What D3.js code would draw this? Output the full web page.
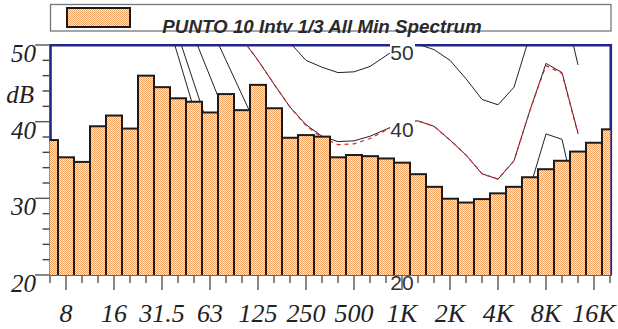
<!DOCTYPE html>
<html><head><meta charset="utf-8">
<script src="https://cdn.jsdelivr.net/npm/d3@7"></script>
<style>
html,body{margin:0;padding:0;background:#fff;} svg{display:block;}
.ser{font-family:'Liberation Serif','Times New Roman',Times,serif;font-style:italic;font-size:25px;fill:#222;}
.xl{font-size:26px;}
.san{font-family:'Liberation Sans',Arial,Helvetica,sans-serif;}
</style>
</head><body><svg id="c" width="618" height="329"></svg>
<script>
// ---- data ----
const bands = ["6.3","8","10","12.5","16","20","25","31.5","40","50","63","80","100","125","160","200","250","315","400","500","630","800","1K","1.25K","1.6K","2K","2.5K","3.15K","4K","5K","6.3K","8K","10K","12.5K","16K","20K"];
const levels = [37.6,35.35,34.75,39.4,40.8,39.1,46.0,44.5,43.05,42.6,41.2,43.6,41.5,44.8,41.75,37.9,38.25,38.05,35.35,35.65,35.5,35.2,34.65,33.15,31.5,29.95,29.45,29.9,30.65,31.5,32.75,33.8,34.9,36.1,37.25,39.0];
const tickLabels = ["8","16","31.5","63","125","250","500","1K","2K","4K","8K","16K"];
const yMajor = [20,30,40,50];
const yMinor = [22,24,26,28,32,34,36,38,42,44,46,48];
const title = "PUNTO 10 Intv 1/3 All Min Spectrum";
const N = null;
// contours (dB per band, null = not drawn)
const c0  = [N,N,N,N,N,N,N,55.5,48.6,41.6,36,31,27,23.5,20.5,18];
const c10 = [N,N,N,N,N,N,N,N,51.3,45.0,38.7,34,30,27,24,21.5,19.5,18];
const c20 = [N,N,N,N,N,N,N,N,N,51.1,45.9,40.7,36.5,33,30,27,24.5,22.5,21,20.3,20,19.7,20,20.2,19.5,18,15.5,13,12.5,15,21.5,28.5,27.5,19];
const c30 = [N,N,N,N,N,N,N,N,N,N,52.5,48.0,43.5,39.0,36,33,30.5,29,28.3,28.4,29,29.8,30,30,29.4,28,25.8,23.2,22.5,25,31.4,38.4,37.7,28.5];
const c40 = [N,N,N,N,N,N,N,N,N,N,N,N,50.8,48.0,44.9,41.9,39.6,38.1,37.4,37.5,38.1,39.0,40.0,40.1,39.4,37.6,35.65,33.2,32.5,34.9,41.5,47.6,46.4,38.5];
const c50 = [N,N,N,N,N,N,N,N,N,N,N,N,N,N,53.0,50.3,48.0,47.1,46.4,46.5,47.2,48.6,50.0,50.1,49.4,48.0,45.6,42.9,42.2,44.5,51.3,57.5,56.4,47.4];
const redRef = [N,N,N,N,N,N,N,N,N,N,N,N,50.8,48.0,44.9,41.9,39.5,37.9,37.0,37.1,37.8,38.9,40.0,40.1,39.4,37.6,35.65,33.2,32.5,34.9,41.5,47.3,46.3,38.4];
const contours = [c0,c10,c20,c30,c40,c50];
const labelPhon = [20,30,40,50];
const labelBand = "1K";

// ---- layout ----
const svg = d3.select("#c");
const pLeft = 50.5, pRight = 610.8, pTop = 45.3, pBottom = 275;
const x = d3.scaleBand().domain(bands).range([42, 618]).padding(0);
const cx = b => x(b) + x.bandwidth()/2;
const y = d3.scaleLinear().domain([20,50]).range([275,45]);

const defs = svg.append("defs");
const pat = defs.append("pattern").attr("id","chk").attr("width",2).attr("height",2).attr("patternUnits","userSpaceOnUse");
pat.append("rect").attr("width",2).attr("height",2).attr("fill","#fee9d4");
pat.append("rect").attr("width",1).attr("height",1).attr("fill","#f4a462");
pat.append("rect").attr("x",1).attr("y",1).attr("width",1).attr("height",1).attr("fill","#f4a462");
defs.append("clipPath").attr("id","plotclip").append("rect").attr("x",pLeft).attr("y",pTop).attr("width",pRight-pLeft).attr("height",pBottom-pTop);
defs.append("clipPath").attr("id","barclip").append("rect").attr("x",49.5).attr("y",0).attr("width",610.3-49.5).attr("height",275.3);

// legend
svg.append("rect").attr("x",50.5).attr("y",4.5).attr("width",560.5).attr("height",26.5)
  .attr("fill","#fff").attr("stroke","#777").attr("stroke-width",1.3);
svg.append("rect").attr("x",67).attr("y",8).attr("width",63).attr("height",19)
  .attr("fill","url(#chk)").attr("stroke","#1a1a1a").attr("stroke-width",2);
svg.append("text").attr("class","san").attr("x",322).attr("y",33).attr("text-anchor","middle")
  .style("font-weight","bold").style("font-style","italic").style("font-size","18.8px").style("fill","#2a2a2a").text(title);

// plot frame (top, left, right)
svg.append("path").attr("d",`M${pLeft},${pBottom}V${pTop}H${pRight}V${pBottom}`)
  .attr("fill","none").attr("stroke","#25258a").attr("stroke-width",2.6);

// contours
const line = d3.line().defined(d => d[1] != null).x(d => cx(d[0])).y(d => y(d[1]));
const cg = svg.append("g").attr("clip-path","url(#plotclip)");
contours.forEach(c => {
  cg.append("path").attr("d", line(c.map((v,i)=>[bands[i],v])))
    .attr("fill","none").attr("stroke","#222").attr("stroke-width",1);
});
cg.append("path").attr("d", line(redRef.map((v,i)=>[bands[i],v])))
  .attr("fill","none").attr("stroke","#e8202a").attr("stroke-width",1.2).attr("stroke-dasharray","4,4");

// contour labels
labelPhon.forEach(p => {
  const g = svg.append("g").attr("transform",`translate(${cx(labelBand)},${y(p)})`);
  g.append("rect").attr("x",-12).attr("y",-2).attr("width",25).attr("height",19).attr("fill","#fff");
  g.append("text").attr("class","san").attr("x",0).attr("y",15).attr("text-anchor","middle")
    .style("font-size","21px").style("fill","#333").text(p);
});

// bars
svg.append("g").attr("clip-path","url(#barclip)").selectAll("rect").data(bands).join("rect")
  .attr("x", b => x(b)).attr("width", x.bandwidth())
  .attr("y", (b,i) => y(levels[i])).attr("height", (b,i) => y(20) - y(levels[i]) + 2)
  .attr("fill","url(#chk)").attr("stroke","#1c1c1c").attr("stroke-width",2);

// bottom axis line
svg.append("line").attr("x1",pLeft-1).attr("x2",pRight+1).attr("y1",275.5).attr("y2",275.5)
  .attr("stroke","#5a5aa8").attr("stroke-width",1);

// y ticks and labels
const yg = svg.append("g");
yMajor.forEach(v => yg.append("line").attr("x1",35).attr("x2",49.5).attr("y1",y(v)).attr("y2",y(v)).attr("stroke","#555").attr("stroke-width",1.4));
yMinor.forEach(v => yg.append("line").attr("x1",42.5).attr("x2",49.5).attr("y1",y(v)).attr("y2",y(v)).attr("stroke","#444").attr("stroke-width",1.4));
yMajor.forEach(v => yg.append("text").attr("class","ser").attr("x",36).attr("y",y(v)+17).attr("text-anchor","end").text(v));
yg.append("text").attr("class","ser").attr("x",34).attr("y",103).attr("text-anchor","end").text("dB");

// x ticks and labels
const xg = svg.append("g");
bands.forEach(b => {
  const long = tickLabels.includes(b);
  xg.append("line").attr("x1",cx(b)).attr("x2",cx(b)).attr("y1",275.5).attr("y2", long ? 290 : 283)
    .attr("stroke","#555").attr("stroke-width",1.4);
});
tickLabels.forEach(t => xg.append("text").attr("class","ser xl").attr("x",cx(t)).attr("y",322).attr("text-anchor","middle").text(t));
</script>
</body></html>
